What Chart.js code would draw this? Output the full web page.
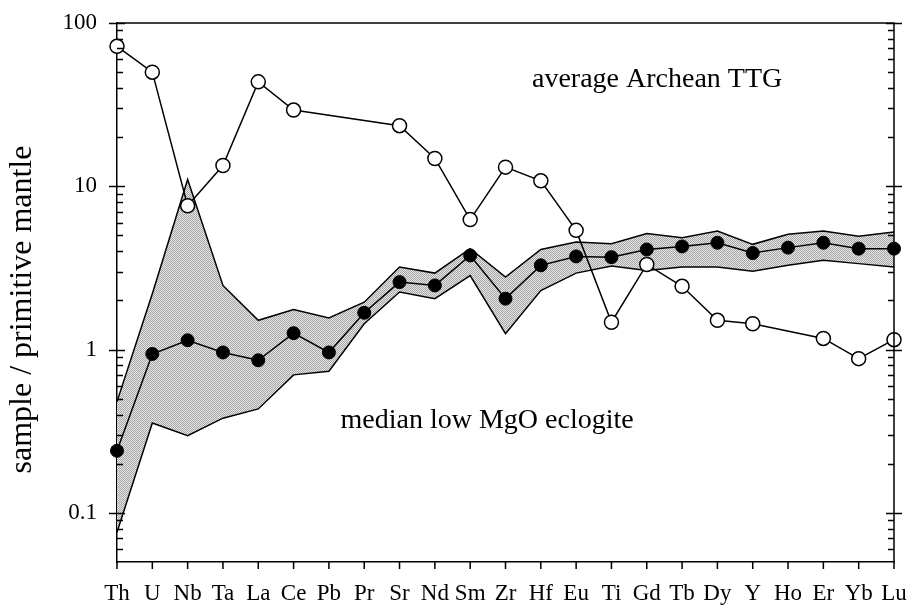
<!DOCTYPE html>
<html>
<head>
<meta charset="utf-8">
<script src="https://cdn.jsdelivr.net/npm/chart.js@4.4.1/dist/chart.umd.min.js"></script>
<style>
  html, body { margin: 0; padding: 0; background: #fff; }
  #wrap { width: 909px; height: 608px; position: relative; }
</style>
</head>
<body>
<div id="wrap"><canvas id="spider"></canvas></div>
<script>
// ── Data ─────────────────────────────────────
const elements  = ['Th','U','Nb','Ta','La','Ce','Pb','Pr','Sr','Nd','Sm','Zr','Hf','Eu','Ti','Gd','Tb','Dy','Y','Ho','Er','Yb','Lu'];
const ttgAvg    = [72, 50, 7.6, 13.4, 43.6, 29.3, null, null, 23.5, 14.8, 6.25, 13.1, 10.8, 5.37, 1.47, 3.32, 2.44, 1.51, 1.44, null, 1.17, 0.88, 1.15];
const eclMedian = [0.24, 0.94, 1.14, 0.96, 0.86, 1.26, 0.96, 1.68, 2.59, 2.47, 3.77, 2.05, 3.28, 3.72, 3.68, 4.1, 4.28, 4.51, 3.9, 4.21, 4.51, 4.15, 4.15];
const eclHigh   = [0.48, 2.2, 11.0, 2.47, 1.51, 1.76, 1.56, 1.95, 3.2, 2.94, 4.15, 2.78, 4.1, 4.55, 4.45, 5.13, 4.84, 5.32, 4.41, 5.08, 5.32, 4.94, 5.24];
const eclLow    = [0.076, 0.355, 0.297, 0.38, 0.433, 0.70, 0.736, 1.44, 2.25, 2.05, 2.84, 1.25, 2.3, 2.94, 3.25, 3.05, 3.2, 3.2, 3.02, 3.28, 3.52, 3.36, 3.2];
const yTicks    = [0.1, 1, 10, 100];

// in-plot captions, anchored in data space (category index, value at baseline)
const notes = [
  { text: 'average Archean TTG',     at: 11.75, value: 40.4 },
  { text: 'median low MgO eclogite', at: 6.33,  value: 0.331 }
];
const yTitle = 'sample / primitive mantle';

const serif = "'Liberation Serif','Times New Roman',serif";
const canvas = document.getElementById('spider');

// ── Screened grey for the eclogite range ─────
function stipple(ctx) {
  const c = document.createElement('canvas');
  c.width = c.height = 2;
  const g = c.getContext('2d');
  g.fillStyle = '#e6e6e6'; g.fillRect(0, 0, 2, 2);
  g.fillStyle = '#a6a6a6'; g.fillRect(0, 0, 1, 1); g.fillRect(1, 1, 1, 1);
  return ctx.createPattern(c, 'repeat');
}
const band = stipple(canvas.getContext('2d'));

// ── Frame, log ticks, captions ───────────────
const frame = {
  id: 'frame',
  afterDatasetsDraw(chart) {
    const { ctx, chartArea: a, scales: { x, y } } = chart;
    ctx.save();
    ctx.strokeStyle = '#000';
    ctx.lineWidth = 1.5;
    ctx.beginPath();
    ctx.moveTo(a.left, a.top); ctx.lineTo(a.right, a.top); ctx.lineTo(a.right, a.bottom);
    for (let e = -2; e <= 2; e++) {
      for (let k = 1; k < 10; k++) {
        const v = k * Math.pow(10, e);
        if (v <= y.min || v > y.max) continue;
        const py = Math.round(y.getPixelForValue(v)) + 0.5;
        const major = k === 1;
        const len = major ? 8 : 6;
        ctx.moveTo(a.left - (major ? 8 : 0), py);  ctx.lineTo(a.left + len, py);
        ctx.moveTo(a.right + (major ? 8 : 0), py); ctx.lineTo(a.right - len, py);
      }
    }
    elements.forEach((_, i) => {
      const px = x.getPixelForValue(i);
      ctx.moveTo(px, a.bottom); ctx.lineTo(px, a.bottom + 7);
    });
    ctx.stroke();

    ctx.fillStyle = '#000';
    ctx.font = '28px ' + serif;
    ctx.textBaseline = 'alphabetic';
    notes.forEach(n => ctx.fillText(n.text, x.getPixelForValue(n.at), y.getPixelForValue(n.value)));

    ctx.translate(23, (a.top + a.bottom) / 2 + 17);
    ctx.rotate(-Math.PI / 2);
    ctx.font = '32px ' + serif;
    ctx.textAlign = 'center';
    ctx.textBaseline = 'middle';
    ctx.fillText(yTitle, 0, 0);
    ctx.restore();
  }
};

// ── Chart ────────────────────────────────────
const line = { borderColor: '#000', borderWidth: 1.5, tension: 0 };

new Chart(canvas, {
  type: 'line',
  data: {
    labels: elements,
    datasets: [
      { ...line, label: 'average Archean TTG', data: ttgAvg, spanGaps: true, fill: false, order: 0,
        pointRadius: 7, pointBackgroundColor: '#fff', pointBorderColor: '#000', pointBorderWidth: 1.5 },
      { ...line, label: 'median low MgO eclogite', data: eclMedian, fill: false, order: 1,
        pointRadius: 6.5, pointBackgroundColor: '#000', pointBorderColor: '#000', pointBorderWidth: 1 },
      { ...line, label: 'eclogite max', data: eclHigh, fill: '+1', backgroundColor: band, order: 2, pointRadius: 0 },
      { ...line, label: 'eclogite min', data: eclLow, fill: false, order: 3, pointRadius: 0 }
    ]
  },
  options: {
    responsive: true, maintainAspectRatio: false, animation: false, events: [],
    layout: { padding: { top: 23, right: 15, left: 0, bottom: 0 } },
    plugins: {
      legend: { display: false },
      tooltip: { enabled: false },
      filler: { drawTime: 'beforeDatasetsDraw' }
    },
    scales: {
      x: {
        offset: false,
        grid: { display: false, drawTicks: false },
        border: { display: true, color: '#000', width: 1.5 },
        ticks: { color: '#000', font: { family: serif, size: 23 }, padding: 18, autoSkip: false, maxRotation: 0 },
        afterFit: s => { s.height = 46; s.paddingLeft = 0; s.paddingRight = 0; }
      },
      y: {
        type: 'logarithmic', min: 0.05, max: 100,
        grid: { display: false, drawTicks: false },
        border: { display: true, color: '#000', width: 1.5 },
        ticks: { color: '#000', font: { family: serif, size: 23 }, padding: 20, callback: v => String(v) },
        afterBuildTicks: s => { s.ticks = yTicks.map(v => ({ value: v })); },
        afterFit: s => { s.width = 117; s.paddingTop = 0; s.paddingBottom = 0; }
      }
    }
  },
  plugins: [frame]
});
</script>
</body>
</html>
